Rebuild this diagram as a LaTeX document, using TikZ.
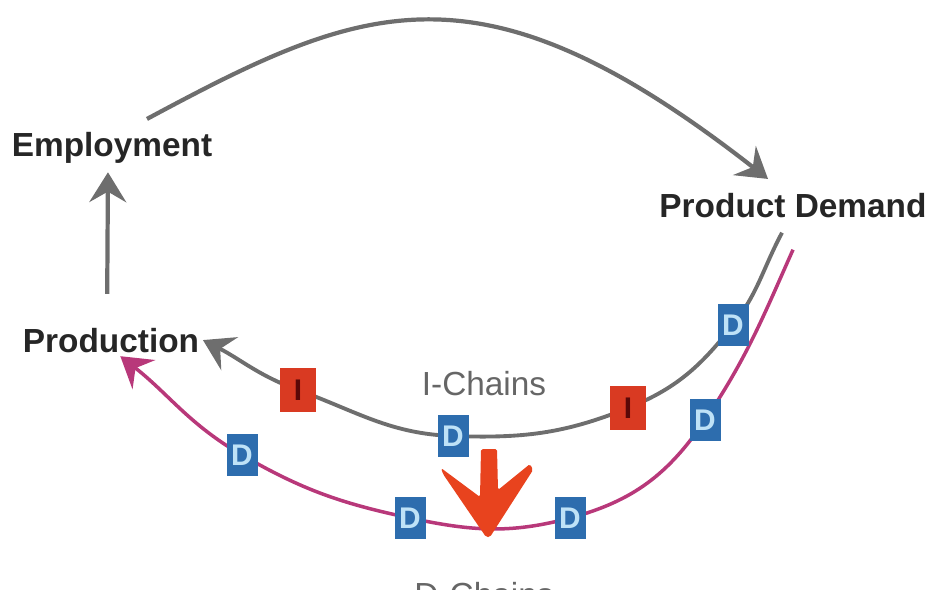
\documentclass[tikz,border=0pt]{standalone}
\usepackage{fontspec}
\setmainfont{Liberation Sans}
\usetikzlibrary{arrows.meta, backgrounds}

\definecolor{chaingray}{HTML}{6E6E6E}
\definecolor{dmagenta}{HTML}{B8387A}
\definecolor{dblue}{HTML}{2D6DAE}
\definecolor{dletter}{HTML}{BEE2F7}
\definecolor{ired}{HTML}{D93A22}
\definecolor{iletter}{HTML}{5A0808}
\definecolor{bigred}{HTML}{E8431E}

\begin{document}
\begin{tikzpicture}[
    x=0.02cm, y=0.02cm,
    >={Stealth[length=17pt, width=21pt, inset=6pt]},
    label/.style={font=\fontsize{19}{22}\selectfont\bfseries, text=black!85, anchor=base, inner sep=2pt},
    chainlabel/.style={font=\fontsize{19}{22}\selectfont, text=black!60, anchor=base},
    dbox/.style={fill=dblue, text=dletter, font=\fontsize{17}{20}\selectfont\bfseries, minimum width=0.62cm, minimum height=0.84cm, inner sep=0pt},
    ibox/.style={fill=ired, text=iletter, font=\fontsize{17}{20}\selectfont\bfseries, minimum width=0.72cm, minimum height=0.88cm, inner sep=0pt},
    flow/.style={draw=chaingray, line width=2.4pt},
    ichain/.style={draw=chaingray, line width=2.2pt},
    dchain/.style={draw=dmagenta, line width=2pt}
]
\useasboundingbox (0,0) rectangle (929,589);

% Labels
\node[label] (emp) at (112,432) {Employment};
\node[label] (pd) at (793,372) {Product Demand};
\node[label] (prod) at (111,237) {Production};
\node[chainlabel] (ilabel) at (484,194) {I-Chains};
\node[chainlabel] (dlabel) at (484,-17) {D-Chains};

% Chain boxes
\node[dbox] (d1) at (733,264) {D};
\node[ibox] (i1) at (628,181) {I};
\node[dbox] (d2) at (453,153) {D};
\node[ibox] (i2) at (298,199) {I};
\node[dbox] (d3) at (705,169) {D};
\node[dbox] (d4) at (570,71) {D};
\node[dbox] (d5) at (410,71) {D};
\node[dbox] (d6) at (242,134) {D};

% Loose ends below Product Demand
\coordinate (istart) at ([xshift=-0.22cm, yshift=-0.23cm]pd.south);
\coordinate (dstart) at ([yshift=-0.57cm]pd.south);

% Outer loop
\draw[flow, ->] ([xshift=0.7cm, yshift=0.2cm]emp.north) .. controls (363,586) and (479,636) .. ([xshift=-0.5cm, yshift=0.2cm]pd.north);
\draw[flow, ->, shorten <=0.6cm, shorten >=0.09cm] ([xshift=-0.08cm]prod.north) -- ([xshift=-0.08cm]emp.south);

\begin{scope}[on background layer]
% I-chain
\draw[ichain, ->] (istart) to[out=242, in=52] (d1.center) to[out=232, in=22] (i1.center)
    to[out=202, in=-2] (d2.center) to[out=178, in=-20] (i2.center) to[out=160, in=-27] (prod.east);

% D-chain
\draw[dchain, ->] (dstart) to[out=246, in=56] (d3.center) to[out=236, in=15] (d4.center)
    to[out=195, in=-12] (d5.center) to[out=168, in=-30] (d6.center) to[out=150, in=-38] (prod.-60);
\end{scope}

% Red arrow between the chains
\fill[bigred, rounded corners=1pt] (481,140) -- (497,140) -- (498,99) -- (530,125) -- (533,119)
    -- (490,52) -- (486,52) -- (443,115) -- (441,121) -- (480,92) -- cycle;

\end{tikzpicture}
\end{document}
